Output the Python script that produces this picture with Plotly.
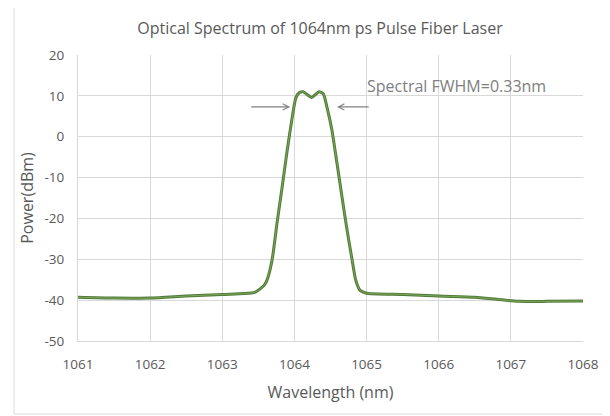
import plotly.graph_objects as go

# Data
wavelength_nm = [1061.0, 1061.5, 1062.0, 1062.5, 1063.0, 1063.3, 1063.45, 1063.52, 1063.58,
                 1063.62, 1063.69, 1063.76, 1063.83, 1063.90, 1063.97, 1064.02, 1064.07,
                 1064.12, 1064.18, 1064.24, 1064.29, 1064.34, 1064.40, 1064.45, 1064.52,
                 1064.59, 1064.66, 1064.73, 1064.80, 1064.85, 1064.91, 1065.0, 1065.5,
                 1066.0, 1066.5, 1066.8, 1067.1, 1067.5, 1068.0]
power_dbm = [-39.3, -39.5, -39.5, -39.0, -38.6, -38.4, -38.1, -37.3, -36.4,
             -35.1, -30.2, -21.0, -12.3, -3.3, 4.8, 9.5, 10.8,
             11.0, 10.3, 9.6, 10.3, 11.0, 10.5, 7.3, 1.6,
             -6.5, -14.8, -22.9, -30.2, -35.1, -37.6, -38.3, -38.6,
             -39.0, -39.3, -39.8, -40.3, -40.3, -40.2]

x_ticks = [1061, 1062, 1063, 1064, 1065, 1066, 1067, 1068]
y_ticks = [20, 10, 0, -10, -20, -30, -40, -50]

title_text = "Optical Spectrum of 1064nm ps Pulse Fiber Laser"
fwhm_text = "Spectral FWHM=0.33nm"
fwhm_level = 7.3
fwhm_left = (1063.38, 1063.94)   # arrow tail, head
fwhm_right = (1065.05, 1064.59)  # arrow tail, head

FONT = "Open Sans"
TXT = "#595959"
GRID = "#d9d9d9"

fig = go.Figure()
# dark outer stroke
fig.add_trace(go.Scatter(
    x=wavelength_nm, y=power_dbm, mode="lines",
    line=dict(color="#527a38", width=3, shape="spline", smoothing=0.6),
    hoverinfo="skip", showlegend=False,
))
# lighter inner stroke
fig.add_trace(go.Scatter(
    x=wavelength_nm, y=power_dbm, mode="lines",
    line=dict(color="#7aa85a", width=1, shape="spline", smoothing=0.6),
    hoverinfo="x+y", showlegend=False,
))

# page body has an 8px margin, so the figure is drawn 8px right/down
OFF = 8
W, H = 610 - OFF, 416 - OFF
L, T = 78 - OFF, 55 - OFF
R = W - (583 - OFF)
B = H - (341 - OFF)
pw, ph = W - L - R, H - T - B

def px_to_paper_x(px):
    return (px - OFF - L) / pw

def px_to_paper_y(py):
    return (H - B - (py - OFF)) / ph

fig.update_layout(
    width=W, height=H,
    margin=dict(l=L, r=R, t=T, b=B, pad=0),
    paper_bgcolor="white", plot_bgcolor="white",
    font=dict(family=FONT, color=TXT, size=13),
    title=dict(text=title_text, x=(320 - OFF) / W, xanchor="center", xref="container",
               y=1 - (28 - OFF) / H, yanchor="middle", yref="container",
               font=dict(family=FONT, size=16, color=TXT)),
    xaxis=dict(range=[1061, 1068], tickvals=x_ticks, ticktext=[str(v) for v in x_ticks],
               showgrid=True, gridcolor=GRID, gridwidth=1,
               showline=True, linecolor=GRID, linewidth=1, mirror=False,
               zeroline=False, ticks="", ticklabelstandoff=11,
               tickfont=dict(size=13.5, color=TXT),
               title=dict(text="Wavelength (nm)", font=dict(size=16, color=TXT), standoff=14)),
    yaxis=dict(range=[-50, 20], tickvals=y_ticks, ticktext=[str(v) for v in y_ticks],
               showgrid=True, gridcolor=GRID, gridwidth=1,
               showline=True, linecolor=GRID, linewidth=1,
               zeroline=False, ticks="", ticklabelstandoff=10,
               tickfont=dict(size=13.5, color=TXT),
               title=dict(text="Power(dBm)", font=dict(size=16, color=TXT), standoff=6)),
    shapes=[dict(type="rect", xref="paper", yref="paper",
                 x0=px_to_paper_x(14), x1=px_to_paper_x(614),
                 y0=px_to_paper_y(414), y1=px_to_paper_y(5),
                 line=dict(color="#d9d9d9", width=1), fillcolor="rgba(0,0,0,0)",
                 layer="below")],
    annotations=[
        dict(x=fwhm_left[1], y=fwhm_level, ax=fwhm_left[0], ay=fwhm_level,
             xref="x", yref="y", axref="x", ayref="y", text="", showarrow=True,
             arrowhead=5, arrowsize=1, arrowwidth=1.2, arrowcolor="#808080"),
        dict(x=fwhm_right[1], y=fwhm_level, ax=fwhm_right[0], ay=fwhm_level,
             xref="x", yref="y", axref="x", ayref="y", text="", showarrow=True,
             arrowhead=5, arrowsize=1, arrowwidth=1.2, arrowcolor="#808080"),
        dict(x=1064.98, y=12.4, xref="x", yref="y", text=fwhm_text, showarrow=False,
             xanchor="left", yanchor="middle", font=dict(family=FONT, size=16, color="#808080")),
    ],
)

fig.write_html("out.html")
